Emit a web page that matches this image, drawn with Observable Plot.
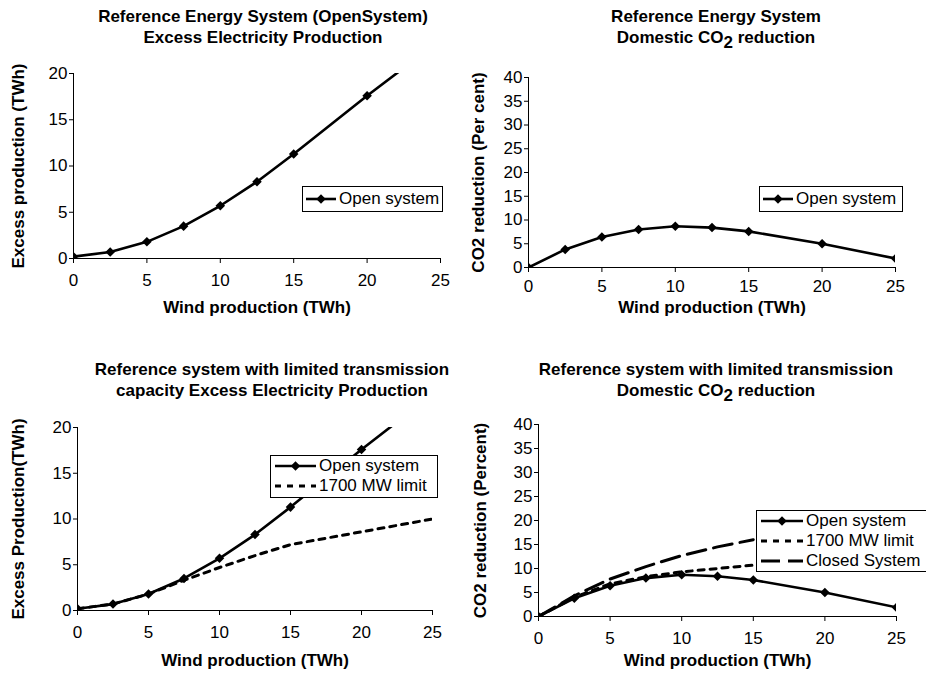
<!DOCTYPE html>
<html>
<head>
<meta charset="utf-8">
<script src="https://cdn.jsdelivr.net/npm/d3@7"></script>
<script src="https://cdn.jsdelivr.net/npm/@observablehq/plot@0.6"></script>
<style>
  html, body { margin: 0; padding: 0; background: #fff; }
  #root { position: relative; width: 926px; height: 673px; overflow: hidden; font-family: "Liberation Sans", Arial, sans-serif; color: #000; }
  .panel { position: absolute; }
  .title { position: absolute; font-weight: bold; font-size: 17px; line-height: 21px; text-align: center; white-space: nowrap; }
  .sub { position: relative; top: 5px; font-size: 17px; }
  .legend { position: absolute; border: 1px solid #000; background: #fff; box-sizing: border-box; font-size: 17px; }
  .legend .row { display: flex; align-items: center; height: 20px; white-space: nowrap; }
  .legend svg { display: block; }
</style>
</head>
<body>
<div id="root"></div>
<script>
// ---- data ----
const wind = [0, 2.5, 5, 7.5, 10, 12.5, 15, 20, 25];
const excessOpen = [0.2, 0.7, 1.8, 3.5, 5.7, 8.3, 11.3, 17.6, 23.6];
const co2Open = [0, 3.8, 6.4, 8.0, 8.7, 8.4, 7.6, 5.0, 1.9];

const windLimit = [0, 2.5, 5, 7.5, 10, 12.5, 15, 17.5, 20, 22.5, 25];
const excessLimit = [0.2, 0.7, 1.8, 3.3, 4.7, 6.0, 7.2, 7.9, 8.6, 9.3, 10.0];

const windCo2 = [0, 2.5, 5, 7.5, 10, 12.5, 15];
const co2Limit = [0, 4.0, 6.8, 8.3, 9.3, 10.0, 10.7];
const co2Closed = [0, 4.3, 7.8, 10.4, 12.7, 14.5, 16.0];

const xTicks = [0, 5, 10, 15, 20, 25];
const yTicksExcess = [0, 5, 10, 15, 20];
const yTicksCo2 = [0, 5, 10, 15, 20, 25, 30, 35, 40];

const seriesNames = ["Open system", "1700 MW limit", "Closed System"];
const xLabel = "Wind production (TWh)";
const yLabels = ["Excess production (TWh)", "CO2 reduction (Per cent)", "Excess Production(TWh)", "CO2 reduction (Percent)"];

// ---- helpers ----
const FONT = "'Liberation Sans', Arial, sans-serif";
const zip = (xs, ys) => xs.map((x, i) => ({x, y: ys[i]}));

const styles = {
  open: {stroke: "#000", strokeWidth: 2.6},
  limit: {stroke: "#000", strokeWidth: 3, strokeDasharray: "6,6"},
  closed: {stroke: "#000", strokeWidth: 3, strokeDasharray: "19,8"}
};

function makePlot(cfg) {
  const marks = [
    Plot.ruleY([0], {stroke: "#000", strokeWidth: 1}),
    Plot.ruleX([0], {stroke: "#000", strokeWidth: 1}),
    Plot.axisX({ticks: xTicks, tickSize: 5, tickPadding: cfg.xPad, label: null, fontSize: 17}),
    Plot.axisY({ticks: cfg.yTicks, tickSize: 4, tickPadding: 2, label: null, fontSize: 17}),
  ];
  for (const s of cfg.series) {
    marks.push(Plot.line(s.data, {x: "x", y: "y", ...styles[s.style], clip: true, strokeLinejoin: "round"}));
    if (s.markers) marks.push(Plot.dot(s.data, {x: "x", y: "y", symbol: "diamond2", r: 4.3, fill: "#000", clip: true}));
  }
  marks.push(Plot.text([xLabel], {frameAnchor: "bottom", dy: cfg.xLabelDy, fontWeight: "bold", fontSize: 17, lineAnchor: "middle", textAnchor: "middle"}));
  marks.push(Plot.text([cfg.yLabel], {frameAnchor: "left", rotate: -90, dx: cfg.yLabelDx, fontWeight: "bold", fontSize: 17, lineAnchor: "middle", textAnchor: "middle"}));
  return Plot.plot({
    width: cfg.width, height: cfg.height,
    marginLeft: cfg.m[3], marginRight: cfg.m[1], marginTop: cfg.m[0], marginBottom: cfg.m[2],
    x: {domain: [0, 25]},
    y: {domain: cfg.yDomain},
    style: {fontFamily: FONT, fontSize: "17px", color: "#000", background: "transparent", overflow: "visible"},
    marks
  });
}

function legend(parent, items, box) {
  const div = document.createElement("div");
  div.className = "legend";
  Object.assign(div.style, {left: box.left + "px", top: box.top + "px", width: box.width + "px", height: box.height + "px", paddingTop: box.padTop + "px", paddingLeft: box.padLeft + "px"});
  for (const it of items) {
    const row = document.createElement("div");
    row.className = "row";
    const svg = d3.create("svg").attr("width", box.sample + 3).attr("height", 20);
    const st = styles[it.style];
    svg.append("line").attr("x1", 0).attr("x2", box.sample).attr("y1", 10).attr("y2", 10)
      .attr("stroke", "#000").attr("stroke-width", st.strokeWidth)
      .attr("stroke-dasharray", st.strokeDasharray || null);
    if (it.markers) svg.append("path").attr("transform", `translate(${box.sample / 2},10)`)
      .attr("d", d3.symbol(d3.symbolDiamond2, Math.PI * 4.3 * 4.3)()).attr("fill", "#000");
    row.appendChild(svg.node());
    const t = document.createElement("span");
    t.textContent = it.name;
    row.appendChild(t);
    div.appendChild(row);
  }
  parent.appendChild(div);
}

function title(parent, html, cx, top) {
  const d = document.createElement("div");
  d.className = "title";
  d.innerHTML = html;
  Object.assign(d.style, {left: (cx - 250) + "px", width: "500px", top: top + "px"});
  parent.appendChild(d);
}

const root = document.getElementById("root");
function place(node, left, top) {
  const w = document.createElement("div");
  w.className = "panel";
  w.style.left = left + "px"; w.style.top = top + "px";
  w.appendChild(node);
  root.appendChild(w);
}

// Panel 1
place(makePlot({
  width: 463, height: 330, m: [73, 23, 72, 73], yDomain: [0, 20], yTicks: yTicksExcess, xPad: 10,
  xLabelDy: 49, yLabelDx: -55, yLabel: yLabels[0],
  series: [{data: zip(wind, excessOpen), style: "open", markers: true}]
}), 0, 0);

// Panel 2
place(makePlot({
  width: 463, height: 330, m: [77, 31, 63, 65], yDomain: [0, 40], yTicks: yTicksCo2, xPad: 7,
  xLabelDy: 40, yLabelDx: -50, yLabel: yLabels[1],
  series: [{data: zip(wind, co2Open), style: "open", markers: true}]
}), 463, 0);

// Panel 3
place(makePlot({
  width: 463, height: 343, m: [97, 31, 63, 77], yDomain: [0, 20], yTicks: yTicksExcess, xPad: 10,
  xLabelDy: 50, yLabelDx: -59, yLabel: yLabels[2],
  series: [
    {data: zip(windLimit, excessLimit), style: "limit", markers: false},
    {data: zip(wind, excessOpen), style: "open", markers: true}
  ]
}), 0, 330);

// Panel 4
place(makePlot({
  width: 463, height: 343, m: [94, 30, 57, 75], yDomain: [0, 40], yTicks: yTicksCo2, xPad: 10,
  xLabelDy: 44, yLabelDx: -58, yLabel: yLabels[3],
  series: [
    {data: zip(windCo2, co2Closed), style: "closed", markers: false},
    {data: zip(windCo2, co2Limit), style: "limit", markers: false},
    {data: zip(wind, co2Open), style: "open", markers: true}
  ]
}), 463, 330);

// Titles
title(root, "Reference Energy System (OpenSystem)<br>Excess Electricity Production", 263, 6);
title(root, "Reference Energy System<br>Domestic CO<span class='sub'>2</span> reduction", 716, 6);
title(root, "Reference system with limited transmission<br>capacity Excess Electricity Production", 272, 359);
title(root, "Reference system with limited transmission<br>Domestic CO<span class='sub'>2</span> reduction", 716, 359);

// Legends
legend(root, [{name: seriesNames[0], style: "open", markers: true}],
  {left: 302, top: 186, width: 141, height: 26, padTop: 2, padLeft: 3, sample: 30});
legend(root, [{name: seriesNames[0], style: "open", markers: true}],
  {left: 759, top: 186, width: 144, height: 26, padTop: 2, padLeft: 3, sample: 30});
legend(root, [{name: seriesNames[0], style: "open", markers: true}, {name: seriesNames[1], style: "limit", markers: false}],
  {left: 270, top: 455, width: 168, height: 43, padTop: 0, padLeft: 4, sample: 41});
legend(root, [{name: seriesNames[0], style: "open", markers: true}, {name: seriesNames[1], style: "limit", markers: false}, {name: seriesNames[2], style: "closed", markers: false}],
  {left: 756, top: 510, width: 172, height: 62, padTop: 0, padLeft: 4, sample: 42});
</script>
</body>
</html>
